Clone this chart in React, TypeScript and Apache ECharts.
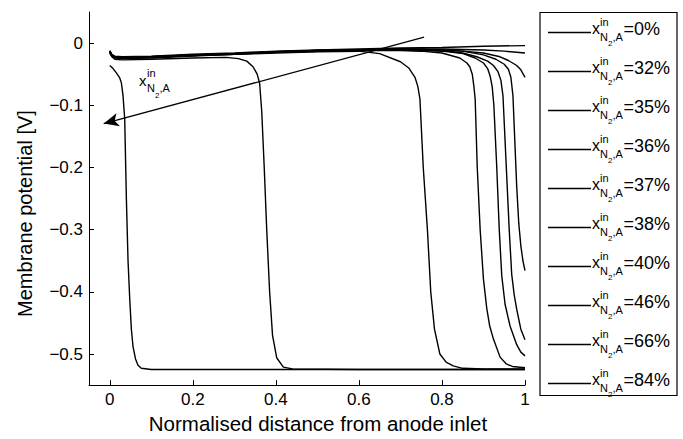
import React, { useEffect, useRef } from "react";
import * as echarts from "echarts";

// ---- data ----
const legendLabels = ["0%", "32%", "35%", "36%", "37%", "38%", "40%", "46%", "66%", "84%"];
const xTicks = [0, 0.2, 0.4, 0.6, 0.8, 1];
const yTicks = [-0.5, -0.4, -0.3, -0.2, -0.1, 0];

const n0 = [[0,-0.012],[0.005,-0.018],[0.012,-0.021],[0.03,-0.022],[0.1,-0.021],[0.2,-0.018],[0.3,-0.016],[0.4,-0.013],[0.5,-0.011],[0.6,-0.0095],[0.7,-0.008],[0.8,-0.007],[0.9,-0.005],[1,-0.004]];
const n32 = [[0,-0.013],[0.005,-0.019],[0.012,-0.022],[0.03,-0.023],[0.1,-0.022],[0.2,-0.019],[0.3,-0.017],[0.4,-0.014],[0.5,-0.012],[0.6,-0.0105],[0.7,-0.0095],[0.8,-0.0095],[0.9,-0.011],[0.95,-0.013],[1,-0.016]];
const n35 = [[0,-0.013],[0.005,-0.019],[0.012,-0.022],[0.03,-0.023],[0.1,-0.022],[0.2,-0.019],[0.3,-0.017],[0.4,-0.014],[0.5,-0.012],[0.6,-0.011],[0.7,-0.01],[0.8,-0.011],[0.85,-0.013],[0.9,-0.016],[0.94,-0.022],[0.96,-0.028],[0.98,-0.036],[0.99,-0.043],[1,-0.055]];
const n36 = [[0,-0.013],[0.005,-0.019],[0.012,-0.022],[0.03,-0.023],[0.1,-0.022],[0.2,-0.019],[0.3,-0.017],[0.4,-0.014],[0.5,-0.012],[0.6,-0.011],[0.7,-0.01],[0.8,-0.011],[0.85,-0.013],[0.9,-0.019],[0.93,-0.026],[0.95,-0.034],[0.96,-0.042],[0.966,-0.055],[0.971,-0.085],[0.975,-0.15],[0.98,-0.23],[0.985,-0.29],[0.99,-0.326],[0.995,-0.35],[1,-0.366]];
const n37 = [[0,-0.014],[0.005,-0.02],[0.012,-0.023],[0.03,-0.024],[0.1,-0.023],[0.2,-0.02],[0.3,-0.017],[0.4,-0.015],[0.5,-0.012],[0.6,-0.011],[0.7,-0.01],[0.75,-0.01],[0.8,-0.012],[0.85,-0.016],[0.884,-0.022],[0.91,-0.029],[0.924,-0.036],[0.935,-0.046],[0.942,-0.06],[0.947,-0.085],[0.955,-0.2],[0.962,-0.3],[0.968,-0.372],[0.974,-0.405],[0.98,-0.428],[0.99,-0.46],[1,-0.477]];
const n38 = [[0,-0.014],[0.005,-0.02],[0.012,-0.023],[0.03,-0.024],[0.1,-0.023],[0.2,-0.02],[0.3,-0.018],[0.4,-0.015],[0.5,-0.013],[0.6,-0.011],[0.7,-0.011],[0.75,-0.012],[0.8,-0.013],[0.851,-0.017],[0.88,-0.024],[0.9,-0.032],[0.91,-0.041],[0.916,-0.053],[0.921,-0.07],[0.925,-0.1],[0.932,-0.2],[0.938,-0.3],[0.944,-0.374],[0.952,-0.42],[0.964,-0.455],[0.98,-0.485],[0.99,-0.497],[1,-0.503]];
const n40 = [[0,-0.014],[0.005,-0.02],[0.012,-0.023],[0.03,-0.024],[0.1,-0.023],[0.2,-0.02],[0.3,-0.018],[0.4,-0.015],[0.5,-0.013],[0.6,-0.012],[0.7,-0.012],[0.75,-0.013],[0.8,-0.016],[0.843,-0.024],[0.86,-0.032],[0.867,-0.038],[0.873,-0.05],[0.877,-0.07],[0.88,-0.09],[0.885,-0.2],[0.892,-0.3],[0.9,-0.38],[0.908,-0.427],[0.915,-0.455],[0.924,-0.476],[0.94,-0.505],[0.955,-0.516],[0.97,-0.52],[1,-0.522]];
const n46 = [[0,-0.015],[0.005,-0.021],[0.012,-0.024],[0.03,-0.025],[0.1,-0.024],[0.2,-0.021],[0.3,-0.018],[0.4,-0.016],[0.5,-0.014],[0.6,-0.013],[0.65,-0.017],[0.7,-0.03],[0.72,-0.04],[0.735,-0.055],[0.742,-0.07],[0.747,-0.09],[0.755,-0.2],[0.765,-0.3],[0.773,-0.4],[0.782,-0.46],[0.795,-0.5],[0.81,-0.513],[0.827,-0.519],[0.85,-0.523],[0.9,-0.524],[1,-0.524]];
const n66 = [[0,-0.016],[0.005,-0.022],[0.012,-0.026],[0.03,-0.027],[0.1,-0.026],[0.2,-0.024],[0.28,-0.023],[0.31,-0.025],[0.33,-0.029],[0.345,-0.038],[0.355,-0.05],[0.361,-0.065],[0.366,-0.11],[0.372,-0.2],[0.378,-0.3],[0.385,-0.4],[0.392,-0.47],[0.402,-0.506],[0.418,-0.521],[0.44,-0.524],[0.6,-0.525],[1,-0.525]];
const n84 = [[0,-0.036],[0.008,-0.041],[0.016,-0.048],[0.024,-0.056],[0.028,-0.064],[0.032,-0.085],[0.036,-0.122],[0.04,-0.25],[0.044,-0.35],[0.048,-0.41],[0.052,-0.46],[0.056,-0.488],[0.062,-0.508],[0.068,-0.518],[0.076,-0.523],[0.1,-0.525],[1,-0.525]];

const seriesData = [n0, n32, n35, n36, n37, n38, n40, n46, n66, n84];

// annotation arrow (data coordinates)
const arrowFrom = [0.757, 0.0095];
const arrowTo = [-0.0145, -0.1295];

const FONT = "'Liberation Sans', Arial, Helvetica, sans-serif";

function scriptLabel(x0: number, yMid: number, tail: string, big: number) {
  const t = (text: string, x: number, y: number, size: number) => ({
    type: "text",
    x,
    y,
    z: 100,
    silent: true,
    style: {
      text,
      fontSize: size,
      fontFamily: FONT,
      fill: "#000",
      align: "left",
      verticalAlign: "middle",
    },
  });
  const els: any[] = [
    t("x", x0, yMid, big - 2),
    t("in", x0 + 8, yMid - 7, 11),
    t("N", x0 + 8, yMid + 8, 11),
    t("2", x0 + 16, yMid + 15, 8),
    t(",A", x0 + 20.5, yMid + 8, 11),
  ];
  if (tail) els.push(t(tail, x0 + 31.5, yMid, big));
  return els;
}

export default function App() {
  const ref = useRef<HTMLDivElement>(null);

  useEffect(() => {
    if (!ref.current) return;
    const chart = echarts.init(ref.current, null, { renderer: "svg" });

    const series: any[] = seriesData.map((d, i) => ({
      name: "x_N2,A^in=" + legendLabels[i],
      type: "line",
      data: d,
      showSymbol: false,
      symbol: "none",
      smooth: false,
      lineStyle: { color: "#000", width: 1.4 },
      z: 2,
    }));
    series[0].markLine = {
      silent: true,
      symbol: ["none", "arrow"],
      symbolSize: [10, 15],
      label: { show: false },
      lineStyle: { color: "#000", width: 1.3, type: "solid" },
      data: [[{ coord: arrowFrom }, { coord: arrowTo }]],
    };

    const graphic: any[] = [];
    graphic.push({
      type: "rect",
      z: 90,
      silent: true,
      shape: { x: 540, y: 12.5, width: 137, height: 383 },
      style: { fill: "#fff", stroke: "#000", lineWidth: 1.2 },
    });
    legendLabels.forEach((lab, i) => {
      const L = 32.5 + 39 * i;
      graphic.push({
        type: "line",
        z: 100,
        silent: true,
        shape: { x1: 548, y1: L, x2: 591, y2: L },
        style: { stroke: "#000", lineWidth: 1.3 },
      });
      graphic.push(...scriptLabel(592, L - 4, "=" + lab, 18));
    });
    graphic.push(...scriptLabel(139, 80, "", 17));

    chart.setOption({
      animation: false,
      backgroundColor: "#fff",
      grid: { left: 89, right: 158, top: 12, bottom: 47, containLabel: false },
      xAxis: {
        type: "value",
        min: -0.05,
        max: 1,
        name: "Normalised distance from anode inlet",
        nameLocation: "middle",
        nameGap: 22,
        nameTextStyle: { fontSize: 20.5, color: "#000", fontFamily: FONT, padding: [0, 0, 0, 22] },
        axisLine: { onZero: false, lineStyle: { color: "#000", width: 1 } },
        axisTick: { inside: true, length: 5, customValues: xTicks, lineStyle: { color: "#000" } },
        axisLabel: {
          customValues: xTicks,
          color: "#000",
          fontSize: 17,
          fontFamily: FONT,
          margin: 6,
          formatter: (v: number) => String(v),
        },
        splitLine: { show: false },
      },
      yAxis: {
        type: "value",
        min: -0.55,
        max: 0.05,
        name: "Membrane potential [V]",
        nameLocation: "middle",
        nameGap: 54,
        nameTextStyle: { fontSize: 20, color: "#000", fontFamily: FONT, padding: [0, 30, 0, 0] },
        axisLine: { show: true, onZero: false, lineStyle: { color: "#000", width: 1 } },
        axisTick: { show: true, inside: true, length: 5, customValues: yTicks, lineStyle: { color: "#000" } },
        axisLabel: {
          customValues: yTicks,
          color: "#000",
          fontSize: 17,
          fontFamily: FONT,
          margin: 6,
          formatter: (v: number) => (Math.abs(v) < 1e-9 ? "0" : "\u2212" + Math.abs(v).toFixed(1)),
        },
        splitLine: { show: false },
      },
      series,
      graphic,
    });

    return () => chart.dispose();
  }, []);

  return (
    <div
      ref={ref}
      style={{ position: "fixed", left: 0, top: 0, width: 683, height: 439, background: "#fff" }}
    />
  );
}
